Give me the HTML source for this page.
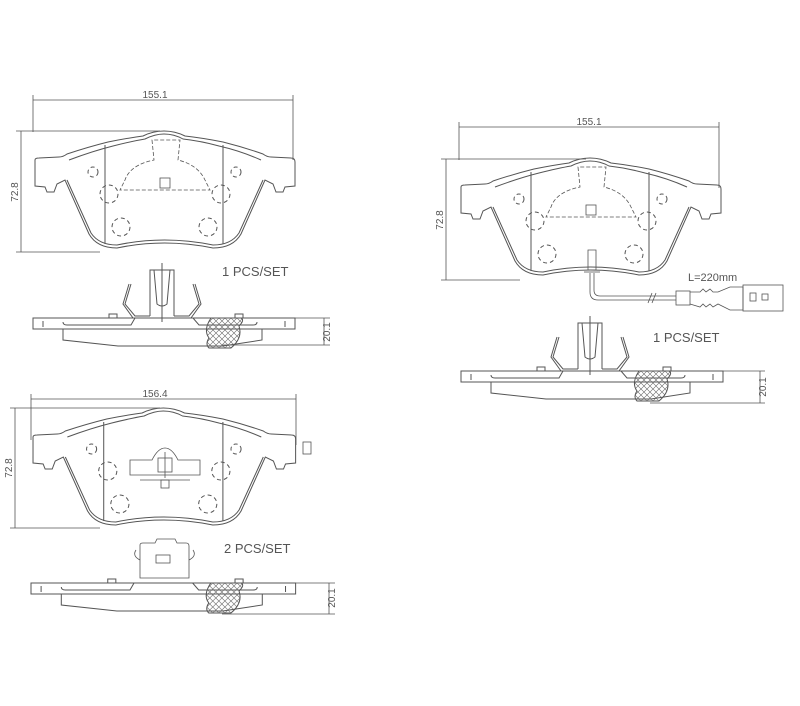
<!DOCTYPE html>
<html><head><meta charset="utf-8"><style>
html,body{margin:0;padding:0;background:#fff}
svg{display:block}
text{font-family:"Liberation Sans",sans-serif;fill:#555}
</style></head><body>
<svg width="800" height="706" viewBox="0 0 800 706" xmlns="http://www.w3.org/2000/svg">
<defs>
<pattern id="hx" width="6" height="6" patternUnits="userSpaceOnUse">
<path d="M0,0 L6,6 M6,0 L0,6" stroke="#666" stroke-width="0.6"/>
</pattern>
<g id="face" fill="none" stroke="#555" stroke-width="1">
<path d="M2,36 L2,30 Q2,28 6,28 L26,27 Q30,27 34,24 Q55,17 75,12 Q95,8 110,6 Q120,1 131,1 Q142,1 152,6 Q170,8 190,12 Q210,17 230,24 Q234,27 238,27 L258,28 Q262,28 262,32 L262,56 L252,57 L250,62 L243,62 L240,54 L232,50 L208,104 Q200,118 180,118 Q131,108 84,118 Q64,118 56,104 L32,50 L24,54 L21,62 L14,62 L12,57 L2,56 Z"/>
<path d="M36,30 Q60,21 80,16 Q100,11 112,9 Q122,4 131,4 Q141,4 150,9 Q168,11 186,16 Q208,21 228,30" />
<path d="M34,50 L58,103 Q66,115 84,115 Q131,105 180,115 Q198,115 206,103 L230,50"/>
<line x1="72" y1="15" x2="72" y2="114"/><line x1="190" y1="15" x2="190" y2="114"/>
<g stroke-dasharray="4,3">
<circle cx="60" cy="42" r="5"/><circle cx="203" cy="42" r="5"/>
<circle cx="76" cy="64" r="9"/><circle cx="188" cy="64" r="9"/>
<circle cx="88" cy="97" r="9"/><circle cx="175" cy="97" r="9"/>
</g>
</g>
<g id="side" fill="none" stroke="#555" stroke-width="1">
<rect x="0" y="0" width="262" height="11"/>
<path d="M30,11 L30,22 L85,28 L190,28 L229,22 L229,11"/>
<path d="M30,4 Q30,7 34,7 L98,7 L102,0 M160,0 L166,7 L220,7 Q224,7 224,4"/>
<rect x="76" y="-4" width="8" height="4"/><rect x="202" y="-4" width="8" height="4"/>
<path d="M178,0 Q170,12 176,20 Q172,26 176,30 L198,30 Q210,20 206,8 Q212,2 208,0 Z" fill="url(#hx)"/>
<line x1="10" y1="3" x2="10" y2="9"/><line x1="252" y1="3" x2="252" y2="9"/>
</g>
<g id="clip" fill="none" stroke="#555" stroke-width="1">
<path d="M117,-2 L117,-48 L141,-48 L141,-2"/>
<path d="M121,-48 L124,-14 Q129,-10 134,-14 L137,-48"/>
<line x1="129" y1="-55" x2="129" y2="4"/>
<path d="M98,-34 L92,-14 L102,-2 L117,-2 M96,-34 L90,-14 L100,0"/>
<path d="M160,-34 L166,-14 L156,-2 L141,-2 M162,-34 L168,-14 L158,0"/>
</g>
</defs>

<g fill="none" stroke="#555" stroke-width="0.8">
<!-- pad 1 dims -->
<line x1="33" y1="100" x2="293" y2="100"/><line x1="33" y1="95" x2="33" y2="132"/><line x1="293" y1="95" x2="293" y2="160"/>
<line x1="21" y1="131" x2="21" y2="252"/><line x1="16" y1="131" x2="160" y2="131"/><line x1="16" y1="252" x2="100" y2="252"/>
<line x1="240" y1="318" x2="330" y2="318"/><line x1="222" y1="345" x2="330" y2="345"/><line x1="324" y1="318" x2="324" y2="345"/>
<!-- pad 2 dims -->
<line x1="459" y1="127" x2="719" y2="127"/><line x1="459" y1="122" x2="459" y2="160"/><line x1="719" y1="122" x2="719" y2="188"/>
<line x1="446" y1="159" x2="446" y2="280"/><line x1="441" y1="159" x2="586" y2="159"/><line x1="441" y1="280" x2="520" y2="280"/>
<line x1="690" y1="371" x2="765" y2="371"/><line x1="650" y1="403" x2="765" y2="403"/><line x1="760" y1="371" x2="760" y2="403"/>
<!-- pad 3 dims -->
<line x1="31" y1="399" x2="296" y2="399"/><line x1="31" y1="394" x2="31" y2="440"/><line x1="296" y1="394" x2="296" y2="445"/>
<line x1="15" y1="408" x2="15" y2="528"/><line x1="10" y1="408" x2="160" y2="408"/><line x1="10" y1="528" x2="100" y2="528"/>
<line x1="240" y1="583" x2="335" y2="583"/><line x1="222" y1="614" x2="335" y2="614"/><line x1="329" y1="583" x2="329" y2="614"/>
</g>

<use href="#face" transform="translate(33,130)"/>
<use href="#face" transform="translate(459,157)"/>
<use href="#face" transform="translate(31,407) scale(1.01,1)"/>

<use href="#side" transform="translate(33,318)"/>
<use href="#clip" transform="translate(33,318)"/>
<use href="#side" transform="translate(461,371)"/>
<use href="#clip" transform="translate(461,371)"/>
<use href="#side" transform="translate(31,583) scale(1.01,1)"/>

<!-- pad1 center detail -->
<g fill="none" stroke="#555" stroke-width="0.8" stroke-dasharray="4,2">
<path d="M152,140 L154,160 Q130,165 125,180 L120,190 L210,190 L205,180 Q198,165 178,160 L180,140 Z"/>
<path d="M578,167 L580,187 Q556,192 551,207 L546,217 L636,217 L631,207 Q624,192 604,187 L606,167 Z"/>
</g>
<g fill="none" stroke="#555" stroke-width="0.8">
<rect x="160" y="178" width="10" height="10"/><rect x="586" y="205" width="10" height="10"/>
<!-- pad3 center clip -->
<path d="M130,460 L130,475 L200,475 L200,460 L178,460 Q172,448 165,448 Q158,448 152,460 Z"/>
<rect x="158" y="458" width="14" height="14"/><line x1="165" y1="452" x2="165" y2="478"/>
<line x1="140" y1="480" x2="190" y2="480"/><rect x="161" y="480" width="8" height="8"/>
<rect x="303" y="442" width="8" height="12"/>
<!-- pad3 clip side -->
<path d="M140,578 L140,545 Q140,543 143,543 L155,543 L157,539 L175,539 L177,543 L186,543 Q189,543 189,546 L189,578 Z"/>
<rect x="156" y="555" width="14" height="8"/>
<path d="M140,560 Q132,556 136,550 M189,560 Q197,556 193,550"/>
<!-- sensor -->
<path d="M588,250 L596,250 L596,270 L588,270 Z"/>
<line x1="584" y1="272" x2="600" y2="272"/>
<path d="M590,273 L590,292 Q590,300 598,300 L676,300 M594,273 L594,290 Q594,296 600,296 L676,296"/>
<path d="M648,303 L652,293 M652,303 L656,293"/>
<rect x="676" y="291" width="14" height="14"/>
<path d="M690,292 L700,292 L703,289 L706,292 L710,289 L713,292 L718,292 L730,287 L743,287 L743,310 L730,310 L718,304 L713,307 L710,304 L706,307 L703,304 L700,307 L690,304"/>
<rect x="743" y="285" width="40" height="26"/><rect x="750" y="293" width="6" height="8"/><rect x="762" y="294" width="6" height="6"/>
</g>

<text x="155" y="98" font-size="10" text-anchor="middle">155.1</text>
<text x="589" y="125" font-size="10" text-anchor="middle">155.1</text>
<text x="155" y="397" font-size="10" text-anchor="middle">156.4</text>
<text transform="translate(18,192) rotate(-90)" font-size="10" text-anchor="middle">72.8</text>
<text transform="translate(443,220) rotate(-90)" font-size="10" text-anchor="middle">72.8</text>
<text transform="translate(12,468) rotate(-90)" font-size="10" text-anchor="middle">72.8</text>
<text transform="translate(330,332) rotate(-90)" font-size="10" text-anchor="middle">20.1</text>
<text transform="translate(766,387) rotate(-90)" font-size="10" text-anchor="middle">20.1</text>
<text transform="translate(335,598) rotate(-90)" font-size="10" text-anchor="middle">20.1</text>
<text x="222" y="276" font-size="13">1  PCS/SET</text>
<text x="653" y="342" font-size="13">1 PCS/SET</text>
<text x="224" y="553" font-size="13">2  PCS/SET</text>
<text x="688" y="281" font-size="11">L=220mm</text>
</svg>
</body></html>
